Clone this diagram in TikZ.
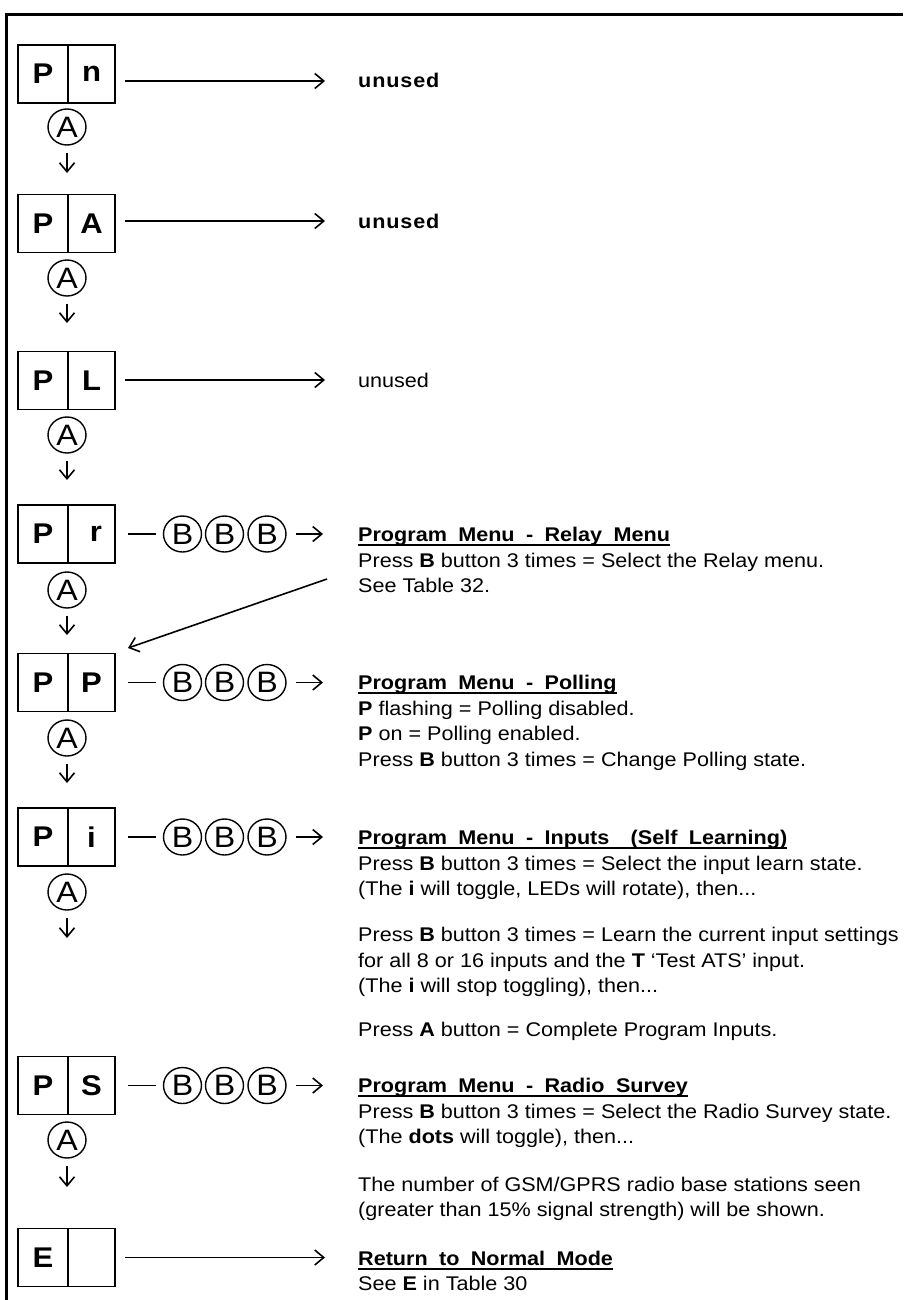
\documentclass[tikz,border=0pt]{standalone}
\usepackage{fontspec}
\setmainfont[FakeStretch=1.09]{Liberation Sans}
\newfontfamily\ttlfont[WordSpace=1.9,FakeStretch=1.09]{Liberation Sans Bold}
\newfontfamily\spacedfont[LetterSpace=4.5,FakeStretch=1.09]{Liberation Sans Bold}
\usetikzlibrary{arrows.meta,shapes.geometric}
\begin{document}
\begin{tikzpicture}[x=1pt,y=-1pt,
  cellL/.style={draw,line width=1.8pt,minimum width=50pt,minimum height=58pt,inner sep=0pt,font=\fontsize{28.5}{28.5}\selectfont\bfseries},
  cellR/.style={draw,line width=1.8pt,minimum width=47pt,minimum height=58pt,inner sep=0pt,font=\fontsize{28.5}{28.5}\selectfont\bfseries},
  btn/.style={ellipse,draw,line width=1.4pt,minimum width=38pt,minimum height=36pt,inner sep=0pt,font=\fontsize{29.5}{29.5}\selectfont},
  arrtip/.style={-{Straight Barb[length=9pt,width=15pt,line width=1.6pt]}},
  harr/.style={line width=1.6pt,arrtip},
  darr/.style={line width=1.6pt,arrtip},
  segline/.style={line width=1.6pt},
  frameline/.style={line width=2.5pt},
  txt/.style={anchor=base west,inner sep=0pt,font=\fontsize{19.8}{24}\selectfont},
  spc/.style={anchor=base west,inner sep=0pt,font=\fontsize{19.8}{24}\spacedfont},
  ttl/.style={anchor=base west,inner sep=0pt,font=\fontsize{19.8}{24}\ttlfont},
  uln/.style={line width=1.5pt},
]
\useasboundingbox (0,0) rectangle (903,1300);
\draw[frameline] (6.5,1300) -- (6.5,14.5) -- (903,14.5);

% ---------- Row 1: P n
\node[cellL] (r1a) at (43,74) {P};
\node[cellR] (r1b) at (91.5,74) {n};
\node[btn] (r1k) at (67,127) {A};
\coordinate (r1d) at (67,173);
\draw[darr,shorten <=7pt] (r1k) -- (r1d);
\node[spc] (u1) at (358,88) {unused};
\coordinate (r1e) at (325,81);
\draw[harr,shorten <=9pt] (r1b.east |- r1e) -- (r1e);

% ---------- Row 2: P A
\node[cellL] (r2a) at (43,223.5) {P};
\node[cellR] (r2b) at (91.5,223.5) {A};
\node[btn] (r2k) at (67,278) {A};
\coordinate (r2d) at (67,323);
\draw[darr,shorten <=7pt] (r2k) -- (r2d);
\node[spc] (u2) at (358,228) {unused};
\coordinate (r2e) at (325,221);
\draw[harr,shorten <=9pt] (r2b.east |- r2e) -- (r2e);

% ---------- Row 3: P L
\node[cellL] (r3a) at (43,380.5) {P};
\node[cellR] (r3b) at (91.5,380.5) {L};
\node[btn] (r3k) at (67,435) {A};
\coordinate (r3d) at (67,480);
\draw[darr,shorten <=7pt] (r3k) -- (r3d);
\node[txt] (u3) at (358,387) {unused};
\coordinate (r3e) at (325,380);
\draw[harr,shorten <=9pt] (r3b.east |- r3e) -- (r3e);

% ---------- Row 4: P r
\node[cellL] (r4a) at (43,534) {P};
\node[cellR] (r4b) at (91.5,534) {\hspace*{9pt}r};
\node[btn] (r4k) at (67,590) {A};
\coordinate (r4d) at (67,635);
\draw[darr,shorten <=7pt] (r4k) -- (r4d);
\node[btn] (r4b1) at (182.5,534) {B};
\node[btn] (r4b2) at (224.5,534) {B};
\node[btn] (r4b3) at (267,534) {B};
\draw[segline,shorten <=12pt,shorten >=7pt] (r4b) -- (r4b1);
\coordinate (r4e) at (323,534);
\draw[harr,shorten <=9pt] (r4b3) -- (r4e);
\node[ttl] (t4) at (358,541) {Program Menu - Relay Menu};
\draw[uln] ([yshift=-4pt]t4.base west) -- ([yshift=-4pt]t4.base east);
\node[txt] (t4a) at (358,567) {Press \textbf{B} button 3 times = Select the Relay menu.};
\node[txt] (t4b) at (358,592) {See Table 32.};
\coordinate (dg1) at (327,579);
\coordinate (dg2) at (128,648);
\draw[harr] (dg1) -- (dg2);

% ---------- Row 5: P P
\node[cellL] (r5a) at (43,682.5) {P};
\node[cellR] (r5b) at (91.5,682.5) {P};
\node[btn] (r5k) at (67,738) {A};
\coordinate (r5d) at (67,783);
\draw[darr,shorten <=7pt] (r5k) -- (r5d);
\node[btn] (r5b1) at (182.5,682.5) {B};
\node[btn] (r5b2) at (224.5,682.5) {B};
\node[btn] (r5b3) at (267,682.5) {B};
\draw[segline,shorten <=12pt,shorten >=7pt] (r5b) -- (r5b1);
\coordinate (r5e) at (323,682.5);
\draw[harr,shorten <=9pt] (r5b3) -- (r5e);
\node[ttl] (t5) at (358,689) {Program Menu - Polling};
\draw[uln] ([yshift=-4pt]t5.base west) -- ([yshift=-4pt]t5.base east);
\node[txt] (t5a) at (358,715) {\textbf{P} flashing = Polling disabled.};
\node[txt] (t5b) at (358,740) {\textbf{P} on = Polling enabled.};
\node[txt] (t5c) at (358,766) {Press \textbf{B} button 3 times = Change Polling state.};

% ---------- Row 6: P i
\node[cellL] (r6a) at (43,837) {P};
\node[cellR] (r6b) at (91.5,837) {i};
\node[btn] (r6k) at (67,892) {A};
\coordinate (r6d) at (67,938);
\draw[darr,shorten <=7pt] (r6k) -- (r6d);
\node[btn] (r6b1) at (182.5,837) {B};
\node[btn] (r6b2) at (224.5,837) {B};
\node[btn] (r6b3) at (267,837) {B};
\draw[segline,shorten <=12pt,shorten >=7pt] (r6b) -- (r6b1);
\coordinate (r6e) at (323,837);
\draw[harr,shorten <=9pt] (r6b3) -- (r6e);
\node[ttl] (t6) at (358,844) {Program Menu - Inputs\hspace{0.5em} (Self Learning)};
\draw[uln] ([yshift=-4pt]t6.base west) -- ([yshift=-4pt]t6.base east);
\node[txt] (t6a) at (358,870) {Press \textbf{B} button 3 times = Select the input learn state.};
\node[txt] (t6b) at (358,895) {(The \textbf{i} will toggle, LEDs will rotate), then...};
\node[txt] (t6c) at (358,941) {Press \textbf{B} button 3 times = Learn the current input settings};
\node[txt] (t6d) at (358,967) {for all 8 or 16 inputs and the \textbf{T} ‘Test ATS’ input.};
\node[txt] (t6e) at (358,992) {(The \textbf{i} will stop toggling), then...};
\node[txt] (t6f) at (358,1036) {Press \textbf{A} button = Complete Program Inputs.};

% ---------- Row 7: P S
\node[cellL] (r7a) at (43,1085.5) {P};
\node[cellR] (r7b) at (91.5,1085.5) {S};
\node[btn] (r7k) at (67,1140) {A};
\coordinate (r7d) at (67,1187);
\draw[darr,shorten <=7pt] (r7k) -- (r7d);
\node[btn] (r7b1) at (182.5,1085.5) {B};
\node[btn] (r7b2) at (224.5,1085.5) {B};
\node[btn] (r7b3) at (267,1085.5) {B};
\draw[segline,shorten <=12pt,shorten >=7pt] (r7b) -- (r7b1);
\coordinate (r7e) at (323,1085.5);
\draw[harr,shorten <=9pt] (r7b3) -- (r7e);
\node[ttl] (t7) at (358,1092) {Program Menu - Radio Survey};
\draw[uln] ([yshift=-4pt]t7.base west) -- ([yshift=-4pt]t7.base east);
\node[txt] (t7a) at (358,1118) {Press \textbf{B} button 3 times = Select the Radio Survey state.};
\node[txt] (t7b) at (358,1143) {(The \textbf{dots} will toggle), then...};
\node[txt] (t7c) at (358,1191) {The number of GSM/GPRS radio base stations seen};
\node[txt] (t7d) at (358,1216) {(greater than 15\% signal strength) will be shown.};

% ---------- Row 8: E
\node[cellL] (r8a) at (43,1257.5) {E};
\node[cellR] (r8b) at (91.5,1257.5) {};
\coordinate (r8e) at (325,1257.5);
\draw[harr,shorten <=9pt] (r8b) -- (r8e);
\node[ttl] (t8) at (358,1265) {Return to Normal Mode};
\draw[uln] ([yshift=-4pt]t8.base west) -- ([yshift=-4pt]t8.base east);
\node[txt] (t8a) at (358,1290) {See \textbf{E} in Table 30};
\end{tikzpicture}
\end{document}
